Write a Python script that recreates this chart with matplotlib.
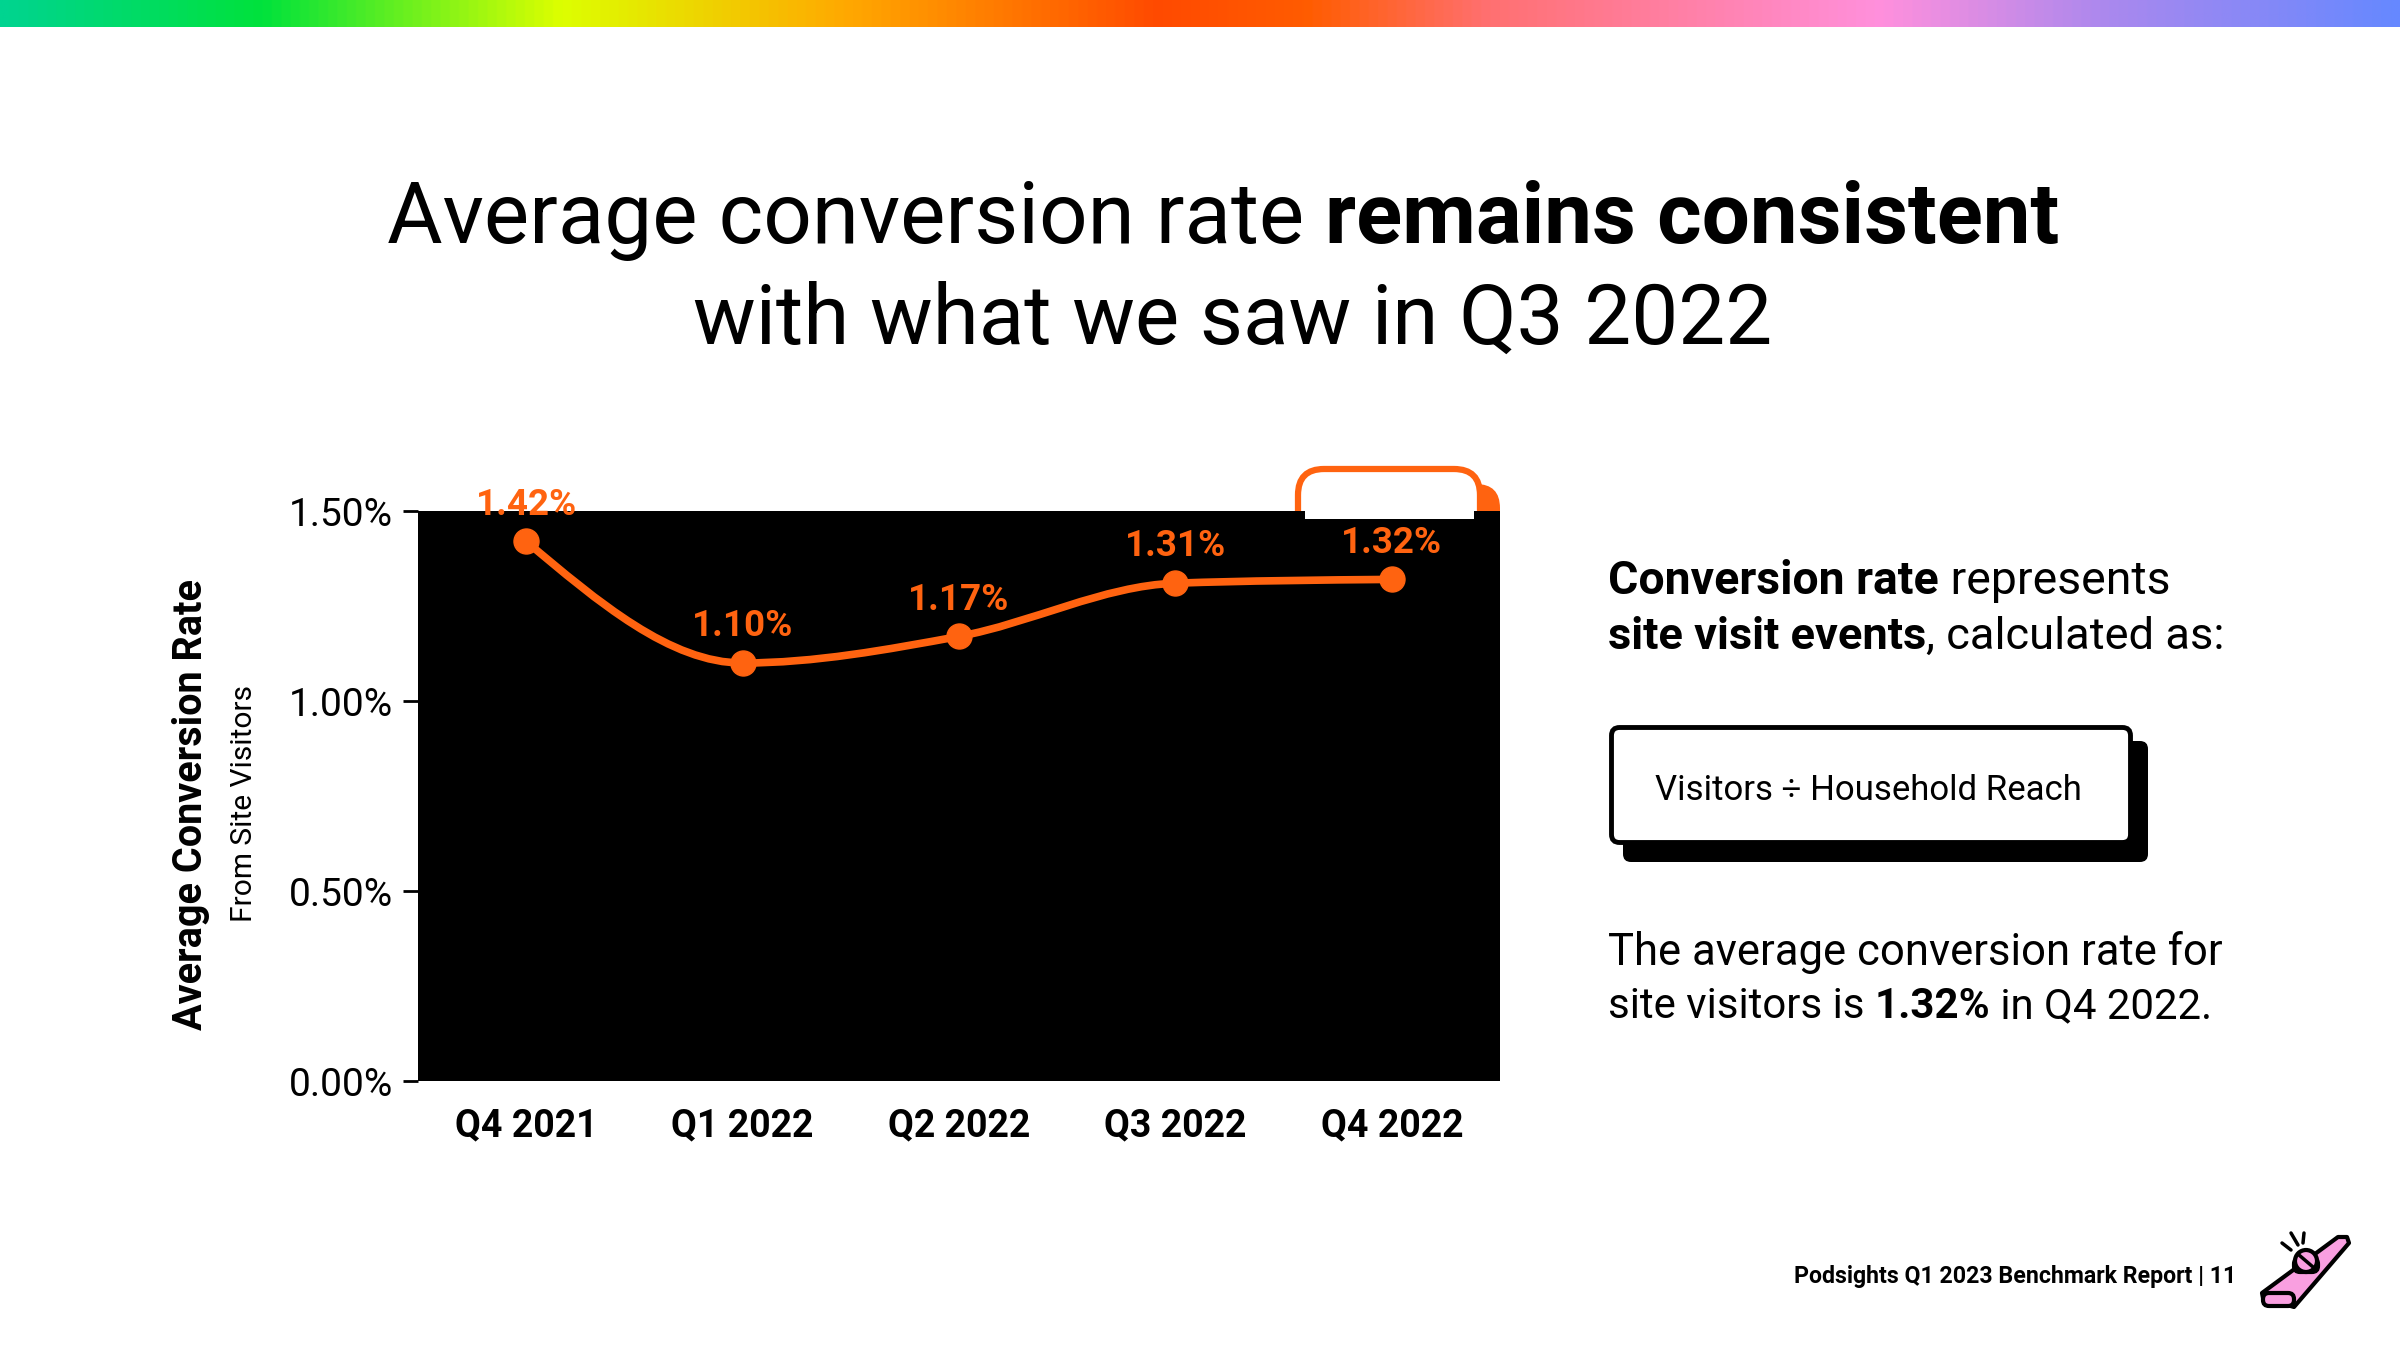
import matplotlib
matplotlib.use("Agg")
import matplotlib.pyplot as plt
import numpy as np
from matplotlib.colors import LinearSegmentedColormap
from matplotlib.patches import FancyBboxPatch, PathPatch, Rectangle, Polygon, Circle
from matplotlib.path import Path

quarters = ["Q4 2021", "Q1 2022", "Q2 2022", "Q3 2022", "Q4 2022"]
conversion = [1.42, 1.10, 1.17, 1.31, 1.32]
y_ticks = [0.0, 0.5, 1.0, 1.5]
y_tick_labels = ["0.00%", "0.50%", "1.00%", "1.50%"]
band_stops = [0, 0.108, 0.233, 0.35, 0.482, 0.545, 0.62, 0.785, 0.88, 1]
band_colors = ["#00d490", "#00e23c", "#ddff00", "#ffaa00", "#ff4a00", "#ff5c00", "#ff7070",
               "#ff90dd", "#aa88ee", "#6688ff"]

FONT = "Roboto"
ORANGE = "#ff6310"
W, H = 2400, 1350
plt.rcParams["font.family"] = [FONT, "DejaVu Sans"]

fig = plt.figure(figsize=(24, 13.5), dpi=100, facecolor="white")
back = fig.add_axes([0, 0, 1, 1], zorder=0)
front = fig.add_axes([0, 0, 1, 1], zorder=2)
for a in (back, front):
    a.set_xlim(0, W)
    a.set_ylim(H, 0)
    a.axis("off")
front.patch.set_alpha(0)

# rainbow band
cmap = LinearSegmentedColormap.from_list("band", list(zip(band_stops, band_colors)))
back.imshow(np.linspace(0, 1, 1024)[None, :], cmap=cmap, aspect="auto", extent=(0, W, 27, 0))
back.set_xlim(0, W)
back.set_ylim(H, 0)

renderer = fig.canvas.get_renderer()


def measure(s, size, bold):
    t = front.text(0, 0, s, fontsize=size, fontweight="bold" if bold else "normal")
    w = t.get_window_extent(renderer).width
    t.remove()
    return w


def runs(x, y, parts, width, ax=front):
    """Draw one line of mixed regular/bold text on a shared baseline, sized to span `width` px from x."""
    base = sum(measure(s.replace(" ", "\u00a0"), 40, b) for s, b in parts)
    size = 40 * width / base
    cur = x
    for s, bold in parts:
        s2 = s.replace(" ", "\u00a0")
        ax.text(cur, y, s2, fontsize=size, fontweight="bold" if bold else "normal",
                va="baseline", ha="left", color="black")
        cur += measure(s2, size, bold)


runs(387, 243, [("Average conversion rate ", False), ("remains consistent", True)], 1670)
runs(693, 344, [("with what we saw in Q3 2022", False)], 1078)

# highlight tab behind the chart
back.add_patch(FancyBboxPatch((1330, 484), 170, 120, boxstyle="round,pad=0,rounding_size=24",
                              fc=ORANGE, ec=ORANGE, lw=0))
back.add_patch(FancyBboxPatch((1298, 469), 182, 130, boxstyle="round,pad=0,rounding_size=26",
                              fc="white", ec=ORANGE, lw=4.5))

# chart
ax = fig.add_axes([418 / W, 1 - 1081 / H, 1082 / W, 570 / H], zorder=1, facecolor="black")
ax.set_xlim(-0.5, 4.5)
ax.set_ylim(0, 1.5)
for s in ax.spines.values():
    s.set_visible(False)
x = np.arange(len(quarters), dtype=float)
y = np.array(conversion)


def monotone_path(xs, ys):
    h = np.diff(xs)
    s = np.diff(ys) / h
    t = np.zeros_like(ys)
    for i in range(1, len(ys) - 1):
        p = (s[i - 1] * h[i] + s[i] * h[i - 1]) / (h[i - 1] + h[i])
        t[i] = (np.sign(s[i - 1]) + np.sign(s[i])) * min(abs(s[i - 1]), abs(s[i]), 0.5 * abs(p))
    t[0] = (3 * s[0] - t[1]) / 2
    t[-1] = (3 * s[-1] - t[-2]) / 2
    verts, codes = [(xs[0], ys[0])], [Path.MOVETO]
    for i in range(len(h)):
        d = h[i] / 3
        verts += [(xs[i] + d, ys[i] + t[i] * d), (xs[i + 1] - d, ys[i + 1] - t[i + 1] * d), (xs[i + 1], ys[i + 1])]
        codes += [Path.CURVE4] * 3
    return Path(verts, codes)


ax.add_patch(PathPatch(monotone_path(x, y), fc="none", ec=ORANGE, lw=5.5, capstyle="round"))
ax.plot(x, y, ls="none", marker="o", ms=18, mfc=ORANGE, mec=ORANGE, clip_on=False)
for xi, yi in zip(x, y):
    ax.annotate(f"{yi:.2f}%", (xi, yi), xytext=(0, 26.5), textcoords="offset points", ha="center",
                va="center", color=ORANGE, fontsize=26.5, fontweight="bold", annotation_clip=False, zorder=5)

ax.set_xticks(x, quarters, fontsize=27, fontweight="bold")
ax.set_yticks(y_ticks, y_tick_labels, fontsize=28)
ax.tick_params(axis="y", length=11, width=2, pad=7, color="black")
ax.tick_params(axis="x", length=0, pad=19)

# axis titles
front.text(191, 804, "Average Conversion Rate", rotation=90, ha="center", va="center", fontsize=28.5, fontweight="bold")
front.text(244, 804, "From Site Visitors", rotation=90, ha="center", va="center", fontsize=21.5)

# notch over chart
front.add_patch(Rectangle((1305, 509), 169, 10, fc="white", ec="none"))

# right column
runs(1608, 594, [("Conversion rate", True), (" represents", False)], 561)
runs(1608, 649, [("site visit events", True), (", calculated as:", False)], 617)
back.add_patch(FancyBboxPatch((1623, 741), 525, 121, boxstyle="round,pad=0,rounding_size=8", fc="black", ec="black", lw=0))
back.add_patch(FancyBboxPatch((1611.5, 727.5), 519, 115, boxstyle="round,pad=0,rounding_size=8", fc="white", ec="black", lw=3.5, zorder=3))
runs(1655, 800, [("Visitors ÷ Household Reach", False)], 427)
runs(1608, 965, [("The average conversion rate for", False)], 614)
runs(1608, 1018, [("site visitors is ", False), ("1.32%", True), (" in Q4 2022.", False)], 604)

# footer
runs(1794, 1283, [("Podsights Q1 2023 Benchmark Report | 11", True)], 443)

# kazoo icon
PINK = "#f99fe0"
front.add_patch(Polygon([(2338, 1237), (2347, 1237), (2349, 1243), (2294, 1307), (2263, 1298), (2262, 1293)],
                        closed=True, fc=PINK, ec="black", lw=3, joinstyle="round"))
front.add_patch(FancyBboxPatch((2263, 1293), 31, 13, boxstyle="round,pad=0,rounding_size=6", fc=PINK, ec="black", lw=3))
front.add_patch(FancyBboxPatch((2294, 1258), 24, 14, boxstyle="round,pad=0,rounding_size=6", fc=PINK, ec="black", lw=3))
front.add_patch(Circle((2306, 1261), 11, fc=PINK, ec="black", lw=3))
front.plot([2299, 2313], [1255, 1267], color="black", lw=2.5)
for seg in ([(2282, 1243), (2291, 1250)], [(2291, 1233), (2298, 1245)], [(2304, 1233), (2303, 1243)]):
    front.plot(*zip(*seg), color="black", lw=2.5, solid_capstyle="round")

fig.savefig("out.png", dpi=100, facecolor="white")
